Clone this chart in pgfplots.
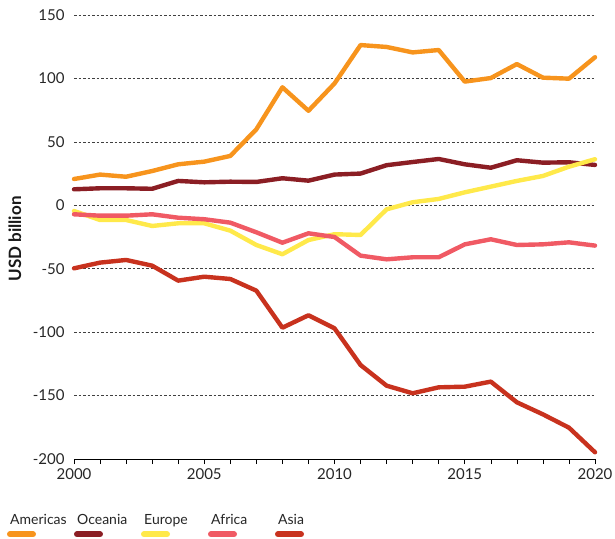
\documentclass[border=0pt]{standalone}
\usepackage{fontspec}
\setmainfont{Lato}
\usepackage{pgfplots}
\pgfplotsset{compat=1.18}
\definecolor{cAm}{HTML}{F7941D}
\definecolor{cOc}{HTML}{8B1E24}
\definecolor{cEu}{HTML}{FFE94A}
\definecolor{cAf}{HTML}{F05A64}
\definecolor{cAs}{HTML}{C8321E}
\begin{document}
\begin{tikzpicture}[x=1pt,y=1pt]
\useasboundingbox (0,0) rectangle (615,538);
\begin{axis}[at={(74pt,79pt)}, anchor=south west, width=521pt, height=444pt, scale only axis,
  xmin=2000, xmax=2020, ymin=-200, ymax=150,
  axis x line*=bottom, axis y line*=left,
  y axis line style={draw=none},
  ytick={-200,-150,-100,-50,0,50,100,150},
  yticklabels={-200,-150,-100,-50,0,50,100,150},
  ytick style={draw=none},
  xtick={2000,2005,2010,2015,2020},
  xticklabels={2000,2005,2010,2015,2020},
  minor xtick={2001,2002,2003,2004,2006,2007,2008,2009,2011,2012,2013,2014,2016,2017,2018,2019},
  tick align=outside, major tick length=5pt, minor tick length=5pt,
  x axis line style={black, line width=0.8pt},
  xtick style={black, line width=0.6pt},
  ymajorgrids, grid style={black!75, dash pattern=on 2.5pt off 2pt, line width=0.6pt},
  ticklabel style={font=\fontsize{15}{17}\selectfont, text=black!85},
  xticklabel style={yshift=-1pt},
  yticklabel style={xshift=-1pt},
  every axis plot/.append style={line width=4.4pt, line join=round, line cap=round, mark=none},
  clip=false,
]
\addplot[cAm] coordinates {(2000,20.7)(2001,24.2)(2002,22.5)(2003,27)(2004,32.3)(2005,34.4)(2006,38.9)(2007,59.9)(2008,93)(2009,74.5)(2010,96)(2011,126.3)(2012,124.8)(2013,120.5)(2014,122.4)(2015,97.5)(2016,100.3)(2017,111.3)(2018,100.6)(2019,99.8)(2020,116.7)};
\addplot[cOc] coordinates {(2000,12.6)(2001,13.4)(2002,13.4)(2003,13)(2004,19.2)(2005,18.1)(2006,18.6)(2007,18.4)(2008,21.3)(2009,19.4)(2010,24.2)(2011,25)(2012,31.6)(2013,34.1)(2014,36.5)(2015,32.3)(2016,29.6)(2017,35.5)(2018,33.6)(2019,33.9)(2020,31.8)};
\addplot[cEu] coordinates {(2000,-4.5)(2001,-11.6)(2002,-11.6)(2003,-16.3)(2004,-14.2)(2005,-14.2)(2006,-20)(2007,-31.3)(2008,-38.6)(2009,-27.4)(2010,-22.8)(2011,-23.4)(2012,-3.2)(2013,2.4)(2014,5)(2015,10.2)(2016,14.7)(2017,19.2)(2018,23.1)(2019,30.4)(2020,36.3)};
\addplot[cAf] coordinates {(2000,-7.1)(2001,-8.2)(2002,-8.2)(2003,-7.1)(2004,-9.8)(2005,-11)(2006,-13.7)(2007,-21.3)(2008,-29.5)(2009,-22.1)(2010,-25)(2011,-39.7)(2012,-42.6)(2013,-41)(2014,-41)(2015,-30.8)(2016,-26.8)(2017,-31.3)(2018,-30.8)(2019,-29.2)(2020,-31.8)};
\addplot[cAs] coordinates {(2000,-49.7)(2001,-45.2)(2002,-43.1)(2003,-47.6)(2004,-59.4)(2005,-56.3)(2006,-58.1)(2007,-67.3)(2008,-96.5)(2009,-86.7)(2010,-97)(2011,-125.9)(2012,-142.2)(2013,-148.2)(2014,-143.5)(2015,-143)(2016,-139)(2017,-155.3)(2018,-164.8)(2019,-175.3)(2020,-194.7)};
\end{axis}
\node[rotate=90, inner sep=0pt, font=\bfseries\fontsize{17}{19}\selectfont, text=black!90] at (15, 299) {USD billion};
\foreach \x/\c/\t in {7/cAm/Americas, 74/cOc/Oceania, 141/cEu/Europe, 208/cAf/Africa, 275/cAs/Asia} {
  \node[anchor=base west, inner sep=0pt, font=\fontsize{14}{16}\selectfont, text=black!85] at (\x+3, 14) {\t};
  \draw[\c, line width=6pt, line cap=round] (\x+3, 3.7) -- (\x+26, 3.7);
}
\end{tikzpicture}
\end{document}
